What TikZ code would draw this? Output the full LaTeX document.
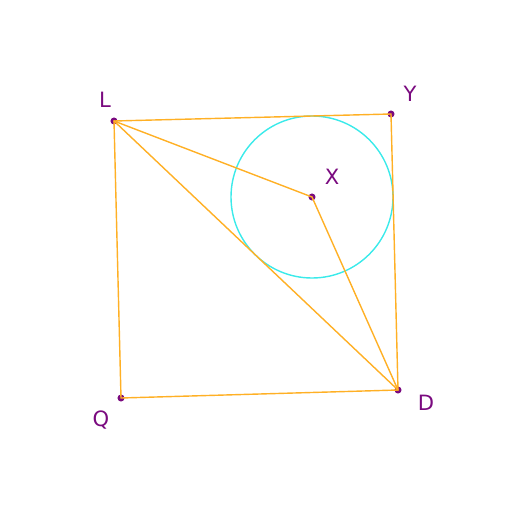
\documentclass[tikz,border=0pt]{standalone}
\usepackage{fontspec}
\setsansfont{DejaVu Sans}
\usetikzlibrary{positioning}
\definecolor{gmOrange}{HTML}{FFB025}
\definecolor{gmCyan}{HTML}{3BEAEA}
\definecolor{gmPurple}{HTML}{7A0A7F}

\tikzset{
  seg/.style={gmOrange, line width=1pt, line cap=round},
  pt/.style={circle, fill=gmPurple, inner sep=0pt, minimum size=5pt},
  lbl/.style={gmPurple, font=\sffamily\fontsize{15}{18}\selectfont}
}

\begin{document}
\begin{tikzpicture}[x=0.025cm, y=-0.025cm]
    \useasboundingbox (0,0) rectangle (512,512);
    % ── points ────────────────────────────────────────────────────────────
    \node[pt] (L) at (114,121) {};
    \node[pt] (Y) at (391,114) {};
    \node[pt] (D) at (398,390) {};
    \node[pt] (Q) at (121,398) {};
    \node[pt] (X) at (312,197) {};

    % ── labels ────────────────────────────────────────────────────────────
    \node[lbl] (lL) at (105,100) {L};
    \node[lbl] (lY) at (410,94) {Y};
    \node[lbl] (lX) at (332,177) {X};
    \node[lbl] (lD) at (426,403) {D};
    \node[lbl] (lQ) at (101,420) {Q};

    % ── circle about X ───────────────────────────────────────────────────
    \draw[gmCyan, line width=1pt] (X.center) circle (81);

    % ── segments ─────────────────────────────────────────────────────────
    \draw[seg] (L.center) -- (Y.center) -- (D.center) -- (Q.center) -- cycle;
    \draw[seg] (L.center) -- (D.center);
    \draw[seg] (L.center) -- (X.center) -- (D.center);
\end{tikzpicture}
\end{document}
